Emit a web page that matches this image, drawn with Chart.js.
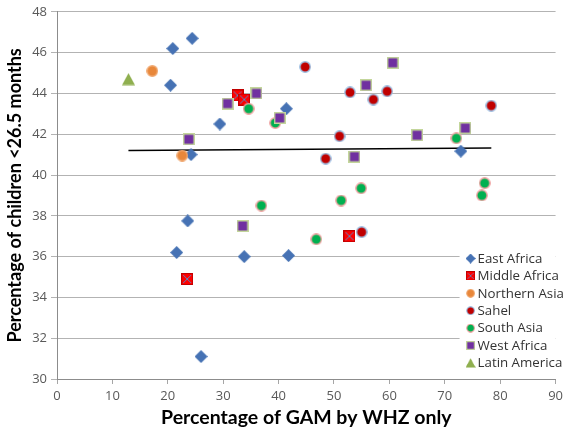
<!DOCTYPE html>
<html><head><meta charset="utf-8">
<script src="https://cdn.jsdelivr.net/npm/chart.js@4/dist/chart.umd.min.js"></script>
<style>html,body{margin:0;padding:0;background:#fff}#wrap{width:567px;height:433px}</style>
</head><body><div id="wrap"><canvas id="c" width="567" height="433"></canvas></div>
<script>
// ---- data ----
const seriesNames = ['East Africa','Middle Africa','Northern Asia','Sahel','South Asia','West Africa','Latin America'];
const eastAfricaX = [24.4, 20.9, 20.5, 29.4, 24.2, 41.4, 72.9, 23.6, 21.6, 33.8, 41.8, 26.0];
const eastAfricaY = [46.7, 46.2, 44.4, 42.5, 41.0, 43.25, 41.17, 37.75, 36.2, 36.0, 36.05, 31.1];
const middleAfricaX = [32.6, 33.8, 23.5, 52.8];
const middleAfricaY = [43.9, 43.7, 34.9, 37.0];
const northernAsiaX = [17.2, 22.6];
const northernAsiaY = [45.1, 40.95];
const sahelX = [44.8, 52.9, 57.1, 59.6, 78.4, 51.0, 48.5, 55.0];
const sahelY = [45.3, 44.05, 43.7, 44.1, 43.4, 41.9, 40.8, 37.2];
const southAsiaX = [34.6, 39.4, 72.1, 54.9, 51.3, 36.9, 46.8, 77.2, 76.7];
const southAsiaY = [43.25, 42.55, 41.8, 39.35, 38.75, 38.5, 36.85, 39.6, 39.0];
const westAfricaX = [30.8, 36.0, 23.8, 40.2, 55.8, 60.6, 53.7, 65.0, 73.7, 33.5];
const westAfricaY = [43.5, 44.0, 41.75, 42.8, 44.4, 45.5, 40.9, 41.95, 42.3, 37.5];
const latinAmericaX = [12.9];
const latinAmericaY = [44.7];
const trendX = [12.9, 78.4];
const trendY = [41.2, 41.32];
const xTicks = [0,10,20,30,40,50,60,70,80,90];
const yTicks = [30,32,34,36,38,40,42,44,46,48];

function pts(xs, ys){ return xs.map((x,i)=>({x:x, y:ys[i]})); }

// ---- marker images ----
function mk(size, fn){ const c=document.createElement('canvas'); c.width=size; c.height=size; fn(c.getContext('2d'), size); return c; }
const mDiamond = mk(13, (g,s)=>{ g.fillStyle='#4672b4'; g.beginPath(); g.moveTo(s/2,0); g.lineTo(s,s/2); g.lineTo(s/2,s); g.lineTo(0,s/2); g.closePath(); g.fill(); });
const mRedSq = mk(12, (g,s)=>{ g.fillStyle='#ff0000'; g.fillRect(0,0,s,s); g.strokeStyle='#c00000'; g.lineWidth=1; g.strokeRect(0.5,0.5,s-1,s-1); g.strokeStyle='#5a84c0'; g.beginPath(); g.moveTo(2,2); g.lineTo(s-2,s-2); g.moveTo(s-2,2); g.lineTo(2,s-2); g.stroke(); });
function circ(fill, stroke){ return mk(12, (g,s)=>{ g.beginPath(); g.arc(s/2,s/2,s/2-0.8,0,Math.PI*2); g.fillStyle=fill; g.fill(); if(stroke){ g.lineWidth=1.4; g.strokeStyle=stroke; g.stroke(); } }); }
const mOrange = circ('#e8873a', '#f0a870');
const mSahel = circ('#c00000', '#9cc0e4');
const mSouth = circ('#00b050', '#f2a3a3');
const mWest = mk(12, (g,s)=>{ g.fillStyle='#c3d69b'; g.fillRect(0,0,s,s); g.fillStyle='#7030a0'; g.fillRect(1.5,1.5,s-3,s-3); });
const mTri = mk(13, (g,s)=>{ g.fillStyle='#8faf4f'; g.beginPath(); g.moveTo(s/2,0.5); g.lineTo(s,s-0.5); g.lineTo(0,s-0.5); g.closePath(); g.fill(); });
const markers = [mDiamond, mRedSq, mOrange, mSahel, mSouth, mWest, mTri];
const seriesData = [
  pts(eastAfricaX, eastAfricaY), pts(middleAfricaX, middleAfricaY), pts(northernAsiaX, northernAsiaY),
  pts(sahelX, sahelY), pts(southAsiaX, southAsiaY), pts(westAfricaX, westAfricaY), pts(latinAmericaX, latinAmericaY)
];

const datasets = [{
  label: 'trend', data: pts(trendX, trendY), showLine: true, borderColor: '#000', borderWidth: 1.4,
  pointRadius: 0, order: 10, fill: false
}];
seriesNames.forEach((n,i)=>{
  datasets.push({ label: n, data: seriesData[i], pointStyle: markers[i], pointRadius: 5, pointHoverRadius: 5, order: 7 - i });
});

const legendPlugin = {
  id: 'boxLegend',
  afterDraw(chart){
    const ctx = chart.ctx, a = chart.chartArea;
    const bx = a.right - 96, by = a.bottom - 131;
    ctx.save();
    ctx.fillStyle = '#fff';
    ctx.fillRect(bx, by, 96, 124);
    ctx.font = '13.3px "Open Sans", Lato, sans-serif';
    ctx.fillStyle = '#333333';
    ctx.textBaseline = 'middle';
    ctx.textAlign = 'left';
    seriesNames.forEach((n,i)=>{
      const cy = by + 10.5 + i*17.4;
      const m = markers[i];
      const s = (i===0||i===6) ? 10 : 9;
      ctx.drawImage(m, bx + 11 - s/2, cy - s/2, s, s);
      ctx.fillText(n, bx + 18, cy + 0.5);
    });
    ctx.restore();
  }
};

new Chart(document.getElementById('c'), {
  type: 'scatter',
  data: { datasets },
  plugins: [legendPlugin],
  options: {
    responsive: false, animation: false, devicePixelRatio: 1,
    layout: { padding: { top: 5, right: 9, left: 0, bottom: 0 } },
    plugins: { legend: { display: false }, tooltip: { enabled: false } },
    scales: {
      x: {
        type: 'linear', min: 0, max: 90,
        afterBuildTicks: s => { s.ticks = xTicks.map(v=>({value:v})); },
        afterFit: s => { s.height = 54; },
        grid: { drawOnChartArea: false, drawTicks: true, tickLength: 5, color: '#a6a6a6' },
        border: { color: '#8c8c8c', width: 1 },
        ticks: { color: '#595959', font: { family: '"Open Sans", Lato, sans-serif', size: 13 }, padding: 4, maxRotation: 0 },
        title: { display: true, text: 'Percentage of GAM by WHZ only', color: '#000',
          font: { family: 'Lato, "Open Sans", sans-serif', size: 19.5, weight: 'bold' }, padding: { top: 0, bottom: 4 } }
      },
      y: {
        type: 'linear', min: 30, max: 48,
        afterBuildTicks: s => { s.ticks = yTicks.map(v=>({value:v})); },
        afterFit: s => { s.width = 57; },
        grid: { drawOnChartArea: true, drawTicks: true, tickLength: 6, color: '#b3b3b3' },
        border: { color: '#8c8c8c', width: 1 },
        ticks: { color: '#595959', font: { family: '"Open Sans", Lato, sans-serif', size: 13 }, padding: 4 },
        title: { display: true, text: 'Percentage of children <26.5 months', color: '#000',
          font: { family: 'Lato, "Open Sans", sans-serif', size: 18, weight: 'bold' }, padding: { top: 4, bottom: 0 } }
      }
    }
  }
});
</script></body></html>
